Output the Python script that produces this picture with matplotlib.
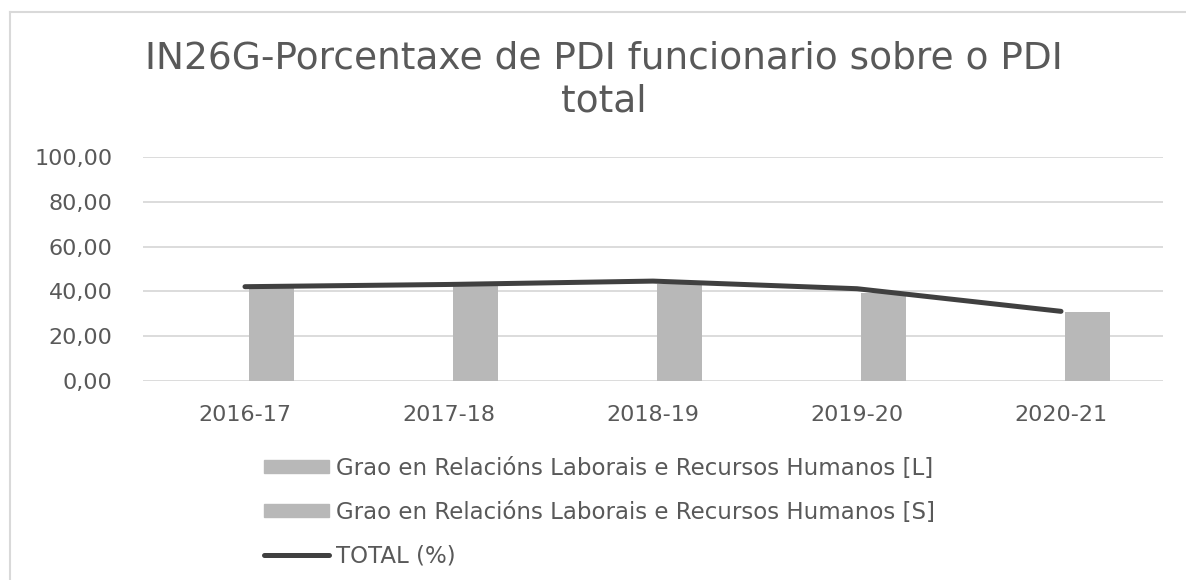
import matplotlib.pyplot as plt
from matplotlib.lines import Line2D
from matplotlib.patches import Patch
import numpy as np

plt.rcParams['font.family'] = ['DejaVu Sans']

cursos = ['2016-17', '2017-18', '2018-19', '2019-20', '2020-21']
grao_L = [0, 0, 0, 0, 0]
grao_S = [41.6, 42.5, 43.5, 39.3, 30.7]
total = [42.1, 43.1, 44.6, 41.2, 31.1]

titulo = 'IN26G-Porcentaxe de PDI funcionario sobre o PDI\ntotal'
lab_L = 'Grao en Relacións Laborais e Recursos Humanos [L]'
lab_S = 'Grao en Relacións Laborais e Recursos Humanos [S]'
lab_T = 'TOTAL (%)'

bar_col = '#b8b8b8'
line_col = '#404040'
txt_col = '#595959'

fig = plt.figure(figsize=(11.86, 5.8), dpi=100)
ax = fig.add_axes([143/1186, 1-381/580, 1020/1186, 224/580])

x = np.arange(len(cursos))
w = 0.22
ax.bar(x - 0.13, grao_L, w, color=bar_col, zorder=2)
ax.bar(x + 0.13, grao_S, w, color=bar_col, zorder=2)
ax.plot(x, total, color=line_col, lw=3.6, solid_capstyle='round', zorder=3)

ax.set_xlim(-0.5, len(cursos) - 0.5)
ax.set_ylim(0, 100)
ax.set_yticks(range(0, 101, 20))
ax.set_yticklabels([f'{v:.2f}'.replace('.', ',') for v in range(0, 101, 20)])
ax.set_xticks(x)
ax.set_xticklabels(cursos)
ax.grid(axis='y', color='#d9d9d9', lw=1.3, zorder=0)
for s in ax.spines.values():
    s.set_visible(False)
ax.tick_params(length=0, labelsize=16, colors=txt_col)
ax.tick_params(axis='x', pad=17)
ax.tick_params(axis='y', pad=22)

fig.text(0.509, 1-80/580, titulo, ha='center', va='center', fontsize=27,
         color=txt_col, linespacing=1.28)

# border of chart area
fig.add_artist(Line2D([10/1186, 10/1186], [0, 1-12/580], color='#d9d9d9', lw=1.5))
fig.add_artist(Line2D([10/1186, 1], [1-12/580, 1-12/580], color='#d9d9d9', lw=1.5))

handles = [Patch(color=bar_col), Patch(color=bar_col),
           Line2D([], [], color=line_col, lw=3.6, solid_capstyle='round')]
fig.legend(handles, [lab_L, lab_S, lab_T], loc='upper left',
           bbox_to_anchor=(264/1186, 1-457/580), frameon=False, fontsize=16.5,
           handlelength=2.85, handleheight=0.5, handletextpad=0.3,
           labelspacing=0.9, borderpad=0, borderaxespad=0, labelcolor=txt_col)

fig.savefig('out.png', dpi=100)
